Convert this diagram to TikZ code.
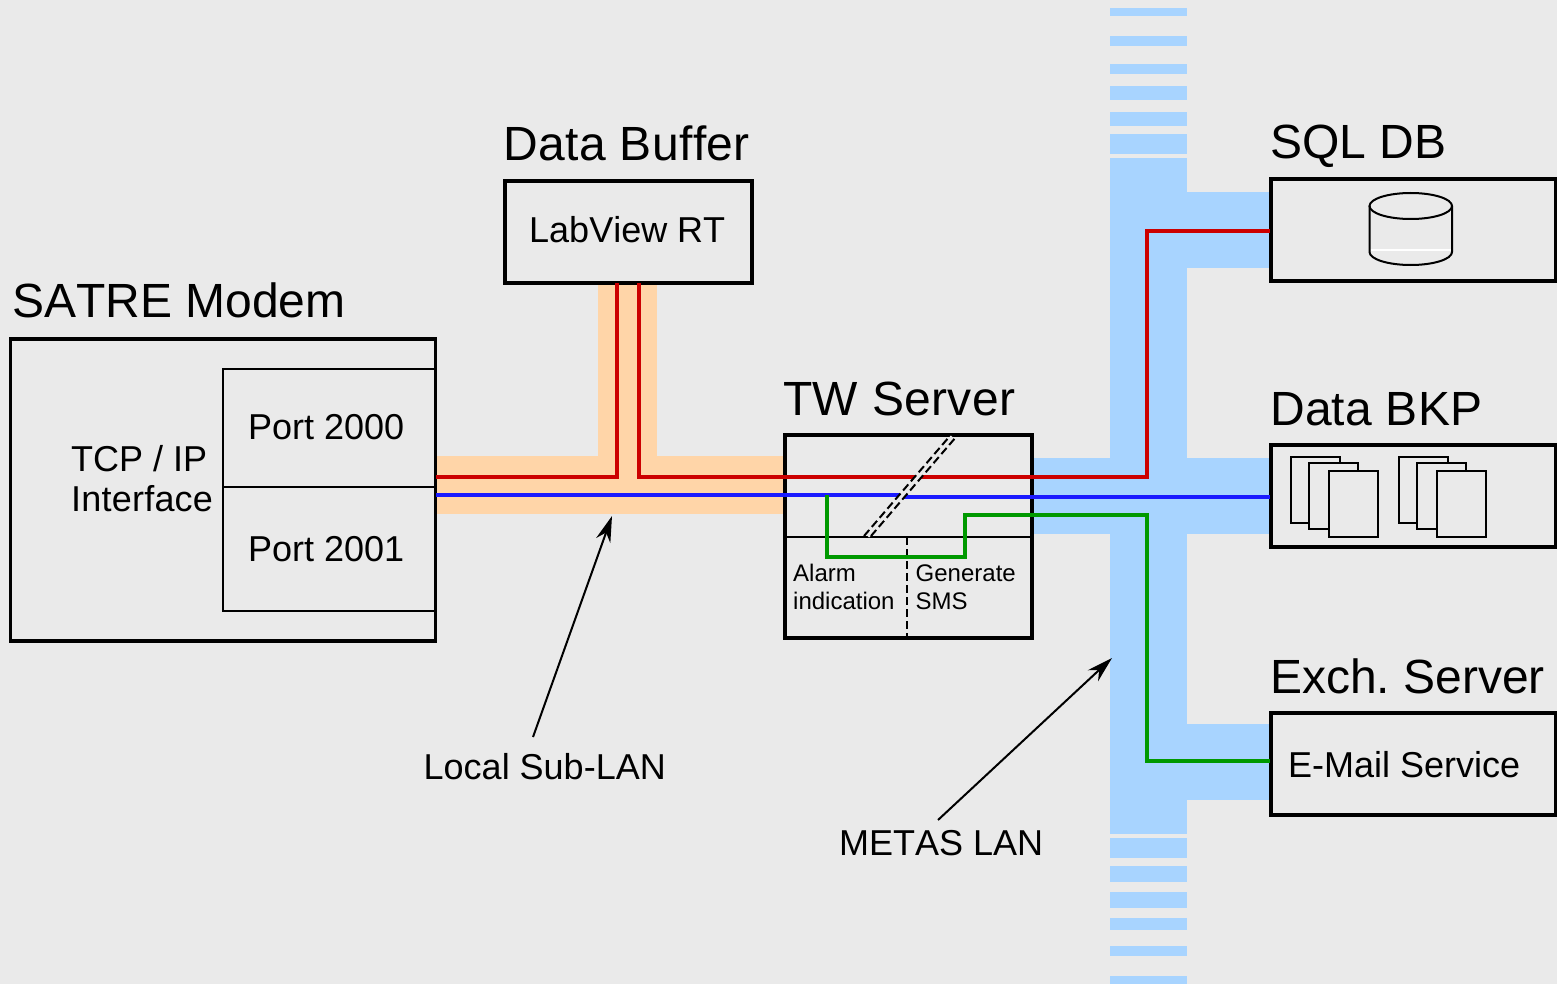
\documentclass[tikz,border=0pt]{standalone}
\usepackage{fontspec}
\setmainfont[Kerning=Off]{Liberation Sans}
\usetikzlibrary{arrows.meta}
\definecolor{bgc}{HTML}{EAEAEA}
\definecolor{lanblue}{HTML}{A8D4FF}
\definecolor{lanorange}{HTML}{FFD5A8}
\definecolor{wirered}{HTML}{CC0000}
\definecolor{wireblue}{HTML}{1A1AFF}
\definecolor{wiregreen}{HTML}{009900}
\tikzset{
  box/.style={draw=black,line width=3.6pt,inner sep=0pt,rectangle},
  thinbox/.style={draw=black,line width=2pt,inner sep=0pt,rectangle},
  doc/.style={draw=black,fill=bgc,line width=2pt,inner sep=0pt,rectangle,minimum width=49pt,minimum height=66pt},
  big/.style={anchor=base west,inner sep=0pt,font=\fontsize{48}{48}\selectfont\frenchspacing},
  mid/.style={anchor=base west,inner sep=0pt,font=\fontsize{36}{36}\selectfont\frenchspacing},
  small/.style={anchor=base west,inner sep=0pt,font=\fontsize{24}{24}\selectfont\frenchspacing},
  wire/.style={line width=3.6pt,line join=miter},
  pointer/.style={line width=2pt,-{Stealth[length=26pt,width=15pt]}},
  dash1/.style={line width=2pt,dash pattern=on 8pt off 4pt},
}
\begin{document}
\begin{tikzpicture}[x=1pt,y=-1pt]
\path[fill=bgc,use as bounding box] (0,0) rectangle (1557,984);
% METAS LAN backbone
\foreach \a/\b in {8/16,36/46,64/74,86/100,112/126,134/154,158/834,838/858,866/882,892/908,918/930,946/956,976/984}
  \fill[lanblue] (1110,\a) rectangle (1187,\b);
\fill[lanblue] (1187,192) rectangle (1272,268);
\fill[lanblue] (1032,458) rectangle (1272,534);
\fill[lanblue] (1187,724) rectangle (1272,800);
% Local Sub-LAN
\fill[lanorange] (437,456) rectangle (784,514);
\fill[lanorange] (598,285) rectangle (657,456);
% boxes
\node[box,minimum width=425pt,minimum height=302pt] (satre) at (223,490) {};
\node[thinbox,minimum width=213pt,minimum height=118pt] (p2000) at (329.5,428) {};
\node[thinbox,minimum width=213pt,minimum height=124pt] (p2001) at (329.5,549) {};
\node[box,minimum width=247pt,minimum height=102pt] (buffer) at (628.5,232) {};
\node[box,minimum width=247pt,minimum height=203pt] (tw) at (908.5,536.5) {};
\node[box,minimum width=285pt,minimum height=102pt] (sql) at (1413.5,230) {};
\node[box,minimum width=285pt,minimum height=102pt] (bkp) at (1413.5,496) {};
\node[box,minimum width=285pt,minimum height=102pt] (exch) at (1413.5,764) {};
% cylinder
\draw[line width=2pt] (1369.5,206) -- (1369.5,252) arc[start angle=180,end angle=360,x radius=41.25pt,y radius=13pt] -- (1452,206);
\draw[line width=2pt] (1410.75,206) ellipse[x radius=41.25pt,y radius=13pt];
\draw[white,line width=2pt] (1370.5,250.5) -- (1451,250.5);
% documents
\node[doc] (d1) at (1315.5,490) {};
\node[doc] (d2) at (1333.5,496) {};
\node[doc] (d3) at (1353.5,504) {};
\node[doc] (d4) at (1423.5,490) {};
\node[doc] (d5) at (1441.5,496) {};
\node[doc] (d6) at (1461.5,504) {};
% TW server interior
\coordinate (twl) at (tw.west |- 0,537);
\coordinate (twr) at (tw.east |- 0,537);
\coordinate (twm) at (907,537);
\coordinate (twb) at (907,638);
\draw[line width=2pt] (twl) -- (twr);
\draw[dash1] (twm) -- (twb);
% wires
\coordinate (rA) at (436,477);
\coordinate (rB) at (617,477);
\coordinate (rC) at (617,283);
\coordinate (rD) at (639,283);
\coordinate (rE) at (639,477);
\coordinate (rF) at (1147,477);
\coordinate (rG) at (1147,231);
\coordinate (rH) at (1270,231);
\draw[wire,wirered] (rA) -- (rB) -- (rC);
\draw[wire,wirered] (rD) -- (rE) -- (rF) -- (rG) -- (rH);
\coordinate (bA) at (436,495);
\coordinate (bB) at (900,495);
\coordinate (bC) at (902,497);
\coordinate (bD) at (1270,497);
\draw[wire,wireblue] (bA) -- (bB);
\draw[wire,wireblue] (bC) -- (bD);
\coordinate (gA) at (827,495);
\coordinate (gB) at (827,557);
\coordinate (gC) at (965,557);
\coordinate (gD) at (965,515);
\coordinate (gE) at (1147,515);
\coordinate (gF) at (1147,761);
\coordinate (gG) at (1270,761);
\draw[wire,wiregreen] (gA) -- (gB) -- (gC) -- (gD) -- (gE) -- (gF) -- (gG);
% double dashed link
\coordinate (s1) at (864,536);
\coordinate (s2) at (949,437);
\coordinate (s3) at (871,536);
\coordinate (s4) at (956,437);
\draw[bgc,line width=4.5pt] (867.5,536) -- (952.5,437);
\draw[dash1] (s1) -- (s2);
\draw[dash1] (s3) -- (s4);
% labels
\node[big] (t1) at (12,317) {SATRE Modem};
\node[big] (t2) at (503.5,161) {\addfontfeature{LetterSpace=0.8}Data Buffer};
\node[big] (t3) at (783,415) {\addfontfeature{LetterSpace=0.9}TW Server};
\node[big] (t4) at (1270,159) {SQL DB};
\node[big] (t5) at (1270,425) {\addfontfeature{LetterSpace=0.5}Data BKP};
\node[big] (t6) at (1270,693) {Exch. Server};
\node[mid] (t7) at (529,243) {LabView RT};
\node[mid] (t8) at (248,439) {Port 2000};
\node[mid] (t9) at (248,561) {Port 2001};
\node[mid] (t10) at (71,471) {TCP / IP};
\node[mid] (t11) at (71,511.5) {\addfontfeature{LetterSpace=0.6}Interface};
\node[small] (t12) at (793,581) {Alarm};
\node[small] (t13) at (793,609) {indication};
\node[small] (t14) at (915.5,581) {Generate};
\node[small] (t15) at (915.5,609) {SMS};
\node[mid] (t16) at (1288,777) {E-Mail Service};
\node[mid] (sublan) at (423.5,779) {Local Sub-LAN};
\node[mid] (metas) at (839,855) {METAS LAN};
% pointers
\coordinate (pa) at (533,737);
\coordinate (pb) at (612,516);
\coordinate (pc) at (938,820);
\coordinate (pd) at (1112,658);
\draw[pointer] (pa) -- (pb);
\draw[pointer] (pc) -- (pd);
\end{tikzpicture}
\end{document}
